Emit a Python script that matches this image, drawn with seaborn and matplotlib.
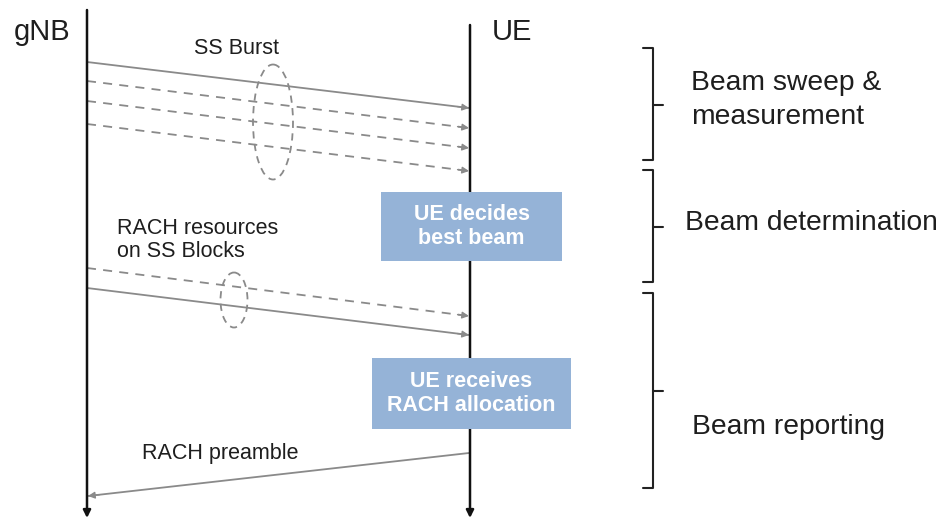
import matplotlib.pyplot as plt
import seaborn as sns
from matplotlib.patches import Ellipse, Rectangle

# Diagrama de secuencia: barrido de haces gNB -> UE
sns.set_style("white")
plt.rcParams['font.family'] = ['Liberation Sans', 'DejaVu Sans']

# Entidades (posicion x en pixeles)
entidades = ["gNB", "UE"]
x_entidades = [87, 470]
y_inicio_entidades = [10, 25]
x_nombres = [42, 512]

# Mensajes: y de salida, y de llegada, estilo, sentido
y_salida = [62, 81, 101, 124, 268, 288, 453]
y_llegada = [108, 128, 148, 171, 316, 335, 496]
estilos = ["-", "--", "--", "--", "--", "-", "-"]
sentido = ["UE", "UE", "UE", "UE", "UE", "UE", "gNB"]

# Etiquetas de mensajes
etiquetas_msg = ["SS Burst", "RACH resources\non SS Blocks", "RACH preamble"]
x_etiquetas_msg = [237, 117, 142]
y_etiquetas_msg = [48, 240, 454]

# Elipses que agrupan los haces
elipses_x = [273, 234]
elipses_y = [122, 300]
elipses_ancho = [40, 27]
elipses_alto = [115, 55]

# Cajas de decision del UE
cajas = ["UE decides\nbest beam", "UE receives\nRACH allocation"]
cajas_x0 = [381, 372]
cajas_x1 = [562, 571]
cajas_y0 = [192, 358]
cajas_y1 = [261, 429]

# Fases (llaves a la derecha)
fases = ["Beam sweep &\nmeasurement", "Beam determination", "Beam reporting"]
fases_y0 = [48, 170, 293]
fases_y1 = [160, 282, 488]
fases_ymed = [105, 227, 391]
fases_x_texto = [691, 685, 692]
fases_y_texto = [100, 223, 427]

gris = "#8a8a8a"
texto = "#1e1e1e"

fig = plt.figure(figsize=(9.43, 5.19), dpi=100)
ax = fig.add_axes([0, 0, 1, 1])
ax.set_xlim(0, 943)
ax.set_ylim(519, 0)
ax.axis("off")

# Lineas de vida
for nombre, x, y0, xn in zip(entidades, x_entidades, y_inicio_entidades, x_nombres):
    ax.annotate("", xy=(x, 518), xytext=(x, y0),
                arrowprops=dict(arrowstyle="-|>", color="#111111", lw=1.8,
                                shrinkA=0, shrinkB=0, mutation_scale=11))
    ax.text(xn, 32, nombre, fontsize=21, ha="center", va="center", color=texto)

# Mensajes
for ys, yl, est, dest in zip(y_salida, y_llegada, estilos, sentido):
    if dest == "UE":
        xs, xl = x_entidades[0], x_entidades[1] - 1
    else:
        xs, xl = x_entidades[1] - 1, x_entidades[0] + 1
    ax.plot([xs, xl], [ys, yl], color=gris, lw=1.3, ls=est,
            dashes=(5, 4) if est == "--" else (None, None))
    dx, dy = xl - xs, yl - ys
    ax.annotate("", xy=(xl, yl), xytext=(xl - dx * 0.03, yl - dy * 0.03),
                arrowprops=dict(arrowstyle="-|>", color=gris, lw=1.0,
                                shrinkA=0, shrinkB=0, mutation_scale=10))

for et, x, y in zip(etiquetas_msg, x_etiquetas_msg, y_etiquetas_msg):
    ha = "center" if et == "SS Burst" else "left"
    ax.text(x, y, et, fontsize=15.5, ha=ha, va="center", color=texto,
            linespacing=1.15)

for x, y, w, h in zip(elipses_x, elipses_y, elipses_ancho, elipses_alto):
    ax.add_patch(Ellipse((x, y), w, h, fill=False, ec=gris, lw=1.3, ls=(0, (4, 3))))

# Cajas
for et, x0, x1, y0, y1 in zip(cajas, cajas_x0, cajas_x1, cajas_y0, cajas_y1):
    ax.add_patch(Rectangle((x0, y0), x1 - x0, y1 - y0, fc="#95b3d7", ec="none", zorder=3))
    ax.text((x0 + x1) / 2, (y0 + y1) / 2, et, fontsize=15.5, fontweight="bold",
            color="white", ha="center", va="center", zorder=4, linespacing=1.2)

# Llaves de fases
for et, y0, y1, ym, xt, yt in zip(fases, fases_y0, fases_y1, fases_ymed,
                                  fases_x_texto, fases_y_texto):
    ax.plot([643, 653, 653, 643], [y0, y0, y1, y1], color="#222222", lw=1.5)
    ax.plot([653, 663], [ym, ym], color="#222222", lw=1.5)
    ax.text(xt, yt, et, fontsize=20.3, ha="left", va="center", color=texto,
            linespacing=1.4)

plt.savefig("out.png", dpi=100)
plt.close()
